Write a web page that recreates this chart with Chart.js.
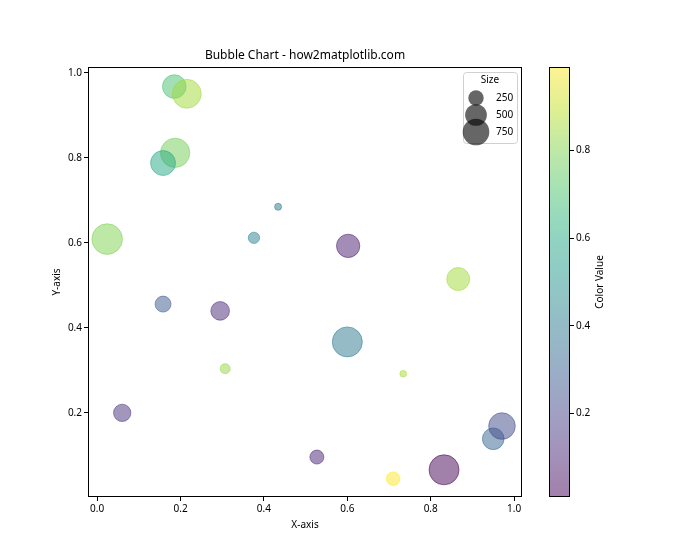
<!DOCTYPE html>
<html>
<head>
<meta charset="utf-8">
<script src="https://cdn.jsdelivr.net/npm/chart.js@4.4.1/dist/chart.umd.min.js"></script>
<style>
  html, body { margin: 0; padding: 0; background: #fff; }
  #wrap { position: relative; width: 700px; height: 560px; }
  #wrap canvas { position: absolute; left: 0; top: 0; }
</style>
</head>
<body>
<div id="wrap">
  <canvas id="main" width="700" height="560"></canvas>
  <canvas id="cbar" width="700" height="560"></canvas>
</div>
<script>
// values
const xVals = [0.185, 0.215, 0.187, 0.158, 0.024, 0.434, 0.376, 0.602, 0.866, 0.158,
               0.295, 0.600, 0.307, 0.734, 0.060, 0.527, 0.710, 0.832, 0.950, 0.971];
const yVals = [0.968, 0.951, 0.812, 0.788, 0.609, 0.685, 0.612, 0.593, 0.515, 0.456,
               0.440, 0.367, 0.304, 0.292, 0.200, 0.096, 0.045, 0.066, 0.139, 0.169];
const sizes = [590, 880, 910, 660, 990, 52, 136, 576, 560, 270,
               368, 953, 106, 47, 318, 207, 198, 953, 497, 750];
const colorVals = [0.70, 0.85, 0.78, 0.60, 0.80, 0.40, 0.43, 0.08, 0.85, 0.28,
                   0.12, 0.40, 0.83, 0.86, 0.14, 0.10, 0.99, 0.01, 0.32, 0.22];
const xTicks = [0, 0.2, 0.4, 0.6, 0.8, 1.0];
const yTicks = [0.2, 0.4, 0.6, 0.8, 1.0];
const cbTicks = [0.2, 0.4, 0.6, 0.8];
const legendSizes = [250, 500, 750];
const titleText = 'Bubble Chart - how2matplotlib.com';

const cMin = Math.min(...colorVals), cMax = Math.max(...colorVals);
const ALPHA = 0.5;
const FONT = '"Noto Sans", "DejaVu Sans", sans-serif';

// viridis stops at 0, 0.1, ... 1
const viridis = ['#440154', '#482475', '#414487', '#355f8d', '#2a788e', '#21918c',
                 '#22a884', '#44bf70', '#7ad151', '#bddf26', '#fde725'];
function hexRgb(h) {
  return [parseInt(h.slice(1, 3), 16), parseInt(h.slice(3, 5), 16), parseInt(h.slice(5, 7), 16)];
}
function cmap(t, a) {
  t = Math.max(0, Math.min(1, t)) * 10;
  const i = Math.min(9, Math.floor(t)), f = t - i;
  const c0 = hexRgb(viridis[i]), c1 = hexRgb(viridis[i + 1]);
  const c = c0.map((v, k) => Math.round(v + (c1[k] - v) * f));
  return `rgba(${c[0]},${c[1]},${c[2]},${a})`;
}
// matplotlib s (points^2) -> radius in px at 70 dpi
const sizeToR = s => Math.sqrt(s) / 2 * 70 / 72;

Chart.defaults.font.family = FONT;
Chart.defaults.font.size = 10;
Chart.defaults.color = '#000';

const points = xVals.map((x, i) => ({ x: x, y: yVals[i], r: sizeToR(sizes[i]) }));
const colors = colorVals.map(c => cmap((c - cMin) / (cMax - cMin), ALPHA));

const frame = {
  id: 'frame',
  afterDraw(chart) {
    const { ctx, chartArea: a } = chart;
    ctx.save();
    ctx.strokeStyle = '#000';
    ctx.lineWidth = 1;
    ctx.strokeRect(Math.round(a.left) + 0.5, Math.round(a.top) + 0.5,
                   Math.round(a.right - a.left) - 1, Math.round(a.bottom - a.top) - 1);

    // title over the plot area
    ctx.fillStyle = '#000';
    ctx.font = '12px ' + FONT;
    ctx.textAlign = 'center';
    ctx.textBaseline = 'middle';
    ctx.fillText(titleText, (a.left + a.right) / 2, a.top - 11);

    // size legend
    const bx = a.right - 59, by = a.top + 5, bw = 54, bh = 71;
    ctx.fillStyle = 'rgba(255,255,255,0.8)';
    ctx.strokeStyle = '#d0d0d0';
    ctx.beginPath();
    ctx.roundRect(bx + 0.5, by + 0.5, bw, bh, 3);
    ctx.fill();
    ctx.stroke();
    ctx.fillStyle = '#000';
    ctx.font = '10px ' + FONT;
    ctx.fillText('Size', bx + bw / 2, by + 8);
    legendSizes.forEach((s, i) => {
      const cy = by + 26 + i * 17;
      ctx.fillStyle = 'rgba(0,0,0,0.6)';
      ctx.beginPath();
      ctx.arc(bx + 13, cy, sizeToR(s), 0, Math.PI * 2);
      ctx.fill();
      ctx.fillStyle = '#000';
      ctx.textAlign = 'left';
      ctx.fillText(String(s), bx + 33, cy);
    });
    ctx.restore();
  }
};

new Chart(document.getElementById('main'), {
  type: 'bubble',
  data: {
    datasets: [{
      data: points,
      backgroundColor: colors,
      borderColor: colors,
      borderWidth: 1
    }]
  },
  options: {
    responsive: false,
    animation: false,
    events: [],
    layout: { padding: { left: 47, right: 178, top: 67, bottom: 25 } },
    plugins: {
      legend: { display: false },
      tooltip: { enabled: false },
      title: { display: false }
    },
    scales: {
      x: {
        min: -0.022, max: 1.019,
        afterBuildTicks: s => { s.ticks = xTicks.map(v => ({ value: v })); },
        afterFit: s => { s.height = 38; },
        ticks: { callback: v => v.toFixed(1), maxRotation: 0, padding: 2 },
        grid: { drawOnChartArea: false, tickLength: 4, color: '#000' },
        border: { display: false },
        title: { display: true, text: 'X-axis', font: { size: 10 } }
      },
      y: {
        min: 0.002, max: 1.014,
        afterBuildTicks: s => { s.ticks = yTicks.map(v => ({ value: v })); },
        afterFit: s => { s.width = 41; },
        ticks: { callback: v => v.toFixed(1), padding: 2 },
        grid: { drawOnChartArea: false, tickLength: 4, color: '#000' },
        border: { display: false },
        title: { display: true, text: 'Y-axis', font: { size: 10 } }
      }
    }
  },
  plugins: [frame]
});

// colorbar
const cbarDraw = {
  id: 'cbarDraw',
  beforeDatasetsDraw(chart) {
    const { ctx, chartArea: a } = chart;
    const g = ctx.createLinearGradient(0, a.bottom, 0, a.top);
    for (let i = 0; i <= 20; i++) g.addColorStop(i / 20, cmap(i / 20, ALPHA));
    ctx.save();
    ctx.fillStyle = g;
    ctx.fillRect(a.left, a.top, a.right - a.left, a.bottom - a.top);
    ctx.strokeStyle = '#000';
    ctx.lineWidth = 1;
    ctx.strokeRect(Math.round(a.left) + 0.5, Math.round(a.top) + 0.5,
                   Math.round(a.right - a.left) - 1, Math.round(a.bottom - a.top) - 1);
    ctx.translate(a.right + 30, (a.top + a.bottom) / 2);
    ctx.rotate(-Math.PI / 2);
    ctx.fillStyle = '#000';
    ctx.font = '10px ' + FONT;
    ctx.textAlign = 'center';
    ctx.textBaseline = 'middle';
    ctx.fillText('Color Value', 0, 0);
    ctx.restore();
  }
};

new Chart(document.getElementById('cbar'), {
  type: 'scatter',
  data: { datasets: [{ data: [] }] },
  options: {
    responsive: false,
    animation: false,
    events: [],
    layout: { padding: { left: 549, right: 90, top: 67, bottom: 63 } },
    plugins: { legend: { display: false }, tooltip: { enabled: false } },
    scales: {
      x: { display: false, min: 0, max: 1 },
      y: {
        position: 'right',
        min: cMin, max: cMax,
        afterBuildTicks: s => { s.ticks = cbTicks.map(v => ({ value: v })); },
        afterFit: s => { s.width = 40; },
        ticks: { callback: v => v.toFixed(1), padding: 2 },
        grid: { drawOnChartArea: false, tickLength: 4, color: '#000' },
        border: { display: false }
      }
    }
  },
  plugins: [cbarDraw]
});
</script>
</body>
</html>
